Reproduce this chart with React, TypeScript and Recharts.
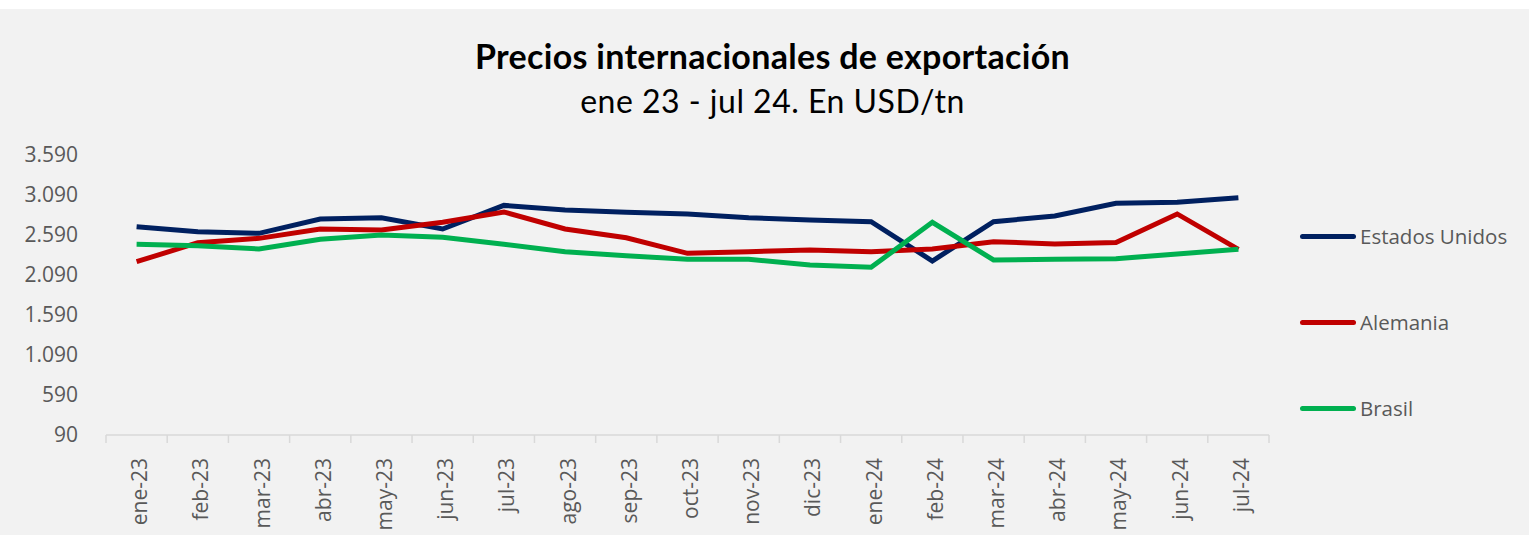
import React from 'react';
import { LineChart, Line, XAxis, YAxis } from 'recharts';

// meses ene-23 .. jul-24
const months = [
  'ene-23', 'feb-23', 'mar-23', 'abr-23', 'may-23', 'jun-23', 'jul-23', 'ago-23', 'sep-23', 'oct-23',
  'nov-23', 'dic-23', 'ene-24', 'feb-24', 'mar-24', 'abr-24', 'may-24', 'jun-24', 'jul-24',
];

const estadosUnidos = [
  2694, 2631, 2611, 2790, 2806, 2665, 2960, 2903, 2874, 2853,
  2806, 2778, 2756, 2265, 2756, 2828, 2986, 2999, 3056,
];

const alemania = [
  2256, 2494, 2548, 2665, 2653, 2749, 2878, 2665, 2556, 2361,
  2381, 2403, 2381, 2415, 2506, 2478, 2496, 2853, 2411,
];

const brasil = [
  2473, 2457, 2415, 2536, 2590, 2561, 2475, 2381, 2331, 2286,
  2286, 2215, 2186, 2749, 2278, 2286, 2294, 2353, 2411,
];

const yTicks = [90, 590, 1090, 1590, 2090, 2590, 3090, 3590];

const series = [
  { key: 'eeuu', name: 'Estados Unidos', color: '#002060' },
  { key: 'alemania', name: 'Alemania', color: '#c00000' },
  { key: 'brasil', name: 'Brasil', color: '#00b050' },
];

const data = months.map((m, i) => ({
  mes: m,
  eeuu: estadosUnidos[i],
  alemania: alemania[i],
  brasil: brasil[i],
}));

const TEXT = '#595959';
const AXIS = '#d9d9d9';
const FONT = '"Open Sans", sans-serif';
const HALF = 30.6;

const fmt = (v: number) => v.toLocaleString('de-DE');

function MonthTick(props: any) {
  const { x, y, payload, index, visibleTicksCount } = props;
  const last = index === visibleTicksCount - 1;
  return (
    <g>
      <line x1={x - HALF} x2={x - HALF} y1={y} y2={y + 8} stroke={AXIS} strokeWidth={1.5} />
      {last && <line x1={x + HALF} x2={x + HALF} y1={y} y2={y + 8} stroke={AXIS} strokeWidth={1.5} />}
      <text
        transform={`translate(${x + 10.5},${y + 23}) rotate(-90)`}
        textAnchor="end"
        fill={TEXT}
        fontSize={21}
        fontFamily={FONT}
      >
        {payload.value}
      </text>
    </g>
  );
}

export default function App() {
  return (
    <div style={{ position: 'absolute', left: 0, top: 0, width: 1529, height: 535, background: '#ffffff' }}>
      <div style={{ position: 'absolute', left: 0, top: 9, width: 1529, height: 526, background: '#f2f2f2' }} />
      <div
        style={{
          position: 'absolute', left: 0, top: 35, width: 1545, textAlign: 'center',
          fontFamily: 'Lato, sans-serif', fontWeight: 700, fontSize: 34, letterSpacing: 0.3, color: '#000',
        }}
      >
        Precios internacionales de exportación
      </div>
      <div
        style={{
          position: 'absolute', left: 0, top: 81, width: 1545, textAlign: 'center',
          fontFamily: 'Lato, sans-serif', fontSize: 32, letterSpacing: 0.5, color: '#000',
        }}
      >
        ene 23 - jul 24. En USD/tn
      </div>
      <div style={{ position: 'absolute', left: 0, top: 0 }}>
        <LineChart width={1529} height={535} data={data} margin={{ top: 155, right: 260, left: 0, bottom: 0 }}>
          <XAxis
            dataKey="mes"
            interval={0}
            padding={{ left: HALF, right: HALF }}
            height={100}
            tickSize={0}
            tickMargin={0}
            axisLine={{ stroke: AXIS, strokeWidth: 1.5 }}
            tickLine={false}
            tick={<MonthTick />}
          />
          <YAxis
            domain={[90, 3590]}
            ticks={yTicks}
            interval={0}
            width={106}
            axisLine={false}
            tickLine={false}
            tickSize={0}
            tickMargin={28}
            tickFormatter={fmt}
            tick={{ fill: TEXT, fontSize: 21, fontFamily: FONT }}
          />
          {series.map((s) => (
            <Line
              key={s.key}
              dataKey={s.key}
              name={s.name}
              stroke={s.color}
              strokeWidth={5}
              dot={false}
              isAnimationActive={false}
            />
          ))}
        </LineChart>
      </div>
      <div style={{ position: 'absolute', left: 1300, top: 193 }}>
        {series.map((s) => (
          <div key={s.key} style={{ display: 'flex', alignItems: 'center', height: 86 }}>
            <div style={{ width: 56, height: 5, borderRadius: 3, background: s.color }} />
            <span style={{ marginLeft: 4, color: TEXT, fontSize: 20.5, fontFamily: FONT }}>{s.name}</span>
          </div>
        ))}
      </div>
    </div>
  );
}
